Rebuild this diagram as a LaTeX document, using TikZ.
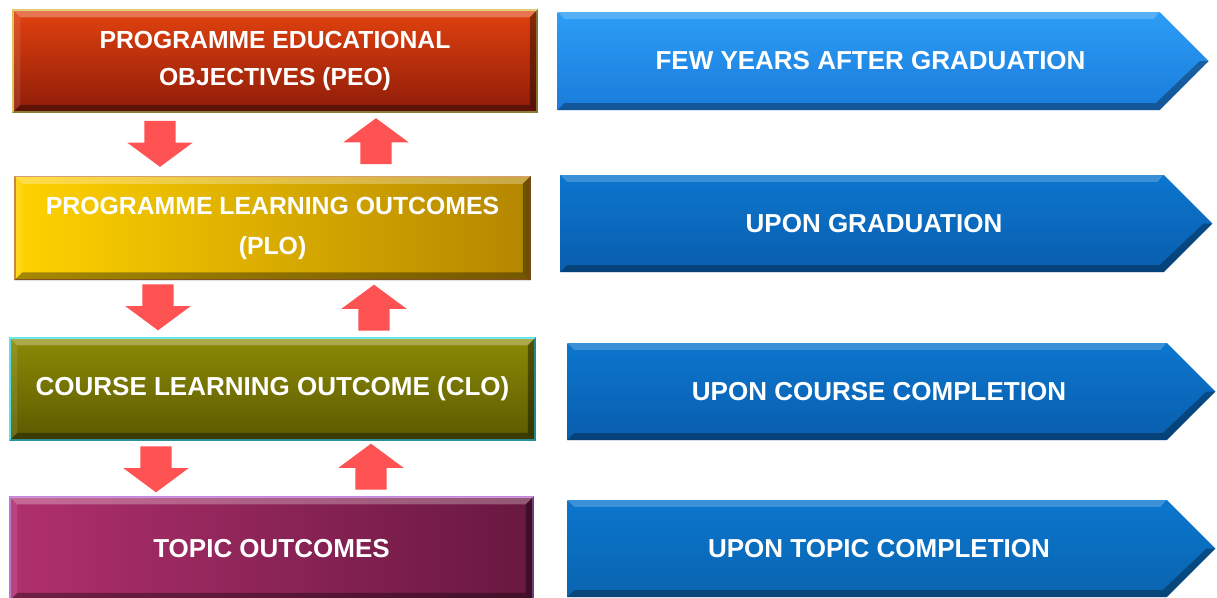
\documentclass[tikz,border=0pt]{standalone}
\usepackage{fontspec}
\setmainfont{Liberation Sans}
\usetikzlibrary{positioning,calc,shapes.arrows,shapes.symbols}

\definecolor{peotop}{HTML}{E2420F}
\definecolor{peobot}{HTML}{8E1C08}
\definecolor{peoline}{HTML}{D8C050}
\definecolor{ploleft}{HTML}{FFD200}
\definecolor{ploright}{HTML}{B48600}
\definecolor{ploline}{HTML}{C87A38}
\definecolor{clotop}{HTML}{8C8A06}
\definecolor{clobot}{HTML}{5C5A00}
\definecolor{cloline}{HTML}{40E0E8}
\definecolor{topleft}{HTML}{B0306E}
\definecolor{topright}{HTML}{681840}
\definecolor{topline}{HTML}{B86CD0}
\definecolor{skytop}{HTML}{2C9DF6}
\definecolor{skybot}{HTML}{1A7CDA}
\definecolor{navytop}{HTML}{0B76CE}
\definecolor{navybot}{HTML}{0A5EAE}
\definecolor{arrowred}{HTML}{FF5252}

\tikzset{
  levelbox/.style={draw, line width=1.5pt, inner sep=0pt, text=white, align=center,
    font=\bfseries\fontsize{26}{38}\selectfont},
  timetag/.style={signal, signal to=east, signal pointer angle=90, inner sep=0pt,
    minimum height=97pt, text=white, font=\bfseries\fontsize{26}{32}\selectfont,
    execute at begin node={\hspace*{24pt}}},
  redarrow/.style={single arrow, fill=arrowred, inner xsep=0pt, inner ysep=15.5pt,
    minimum height=46pt, single arrow head extend=17pt, single arrow tip angle=107}
}

% bevelled edges of a box
\newcommand{\bevelize}[1]{%
  \fill[white, opacity=.28] (#1.north west) -- (#1.north east) -- ([shift={(-8pt,-8pt)}]#1.north east) -- ([shift={(8pt,-8pt)}]#1.north west) -- cycle;
  \fill[black, opacity=.35] (#1.south west) -- (#1.south east) -- ([shift={(-8pt,8pt)}]#1.south east) -- ([shift={(8pt,8pt)}]#1.south west) -- cycle;
  \fill[black, opacity=.4] (#1.north east) -- (#1.south east) -- ([shift={(-8pt,8pt)}]#1.south east) -- ([shift={(-8pt,-8pt)}]#1.north east) -- cycle;
  \fill[white, opacity=.1] (#1.north west) -- (#1.south west) -- ([shift={(8pt,8pt)}]#1.south west) -- ([shift={(8pt,-8pt)}]#1.north west) -- cycle;
}
% bevelled edges of a tag
\newcommand{\tagbevel}[1]{%
  \fill[white, opacity=.2] (#1.west |- #1.north) -- ($(#1.east |- #1.north)+(-49pt,0)$) -- ($(#1.east |- #1.north)+(-55pt,-7pt)$) -- ($(#1.west |- #1.north)+(7pt,-7pt)$) -- cycle;
  \fill[black, opacity=.3] (#1.west |- #1.south) -- ($(#1.east |- #1.south)+(-49pt,0)$) -- (#1.east) -- ($(#1.east)+(-9pt,0)$) -- ($(#1.east |- #1.south)+(-53pt,7pt)$) -- ($(#1.west |- #1.south)+(7pt,7pt)$) -- cycle;
}

\begin{document}
\begin{tikzpicture}[x = 1pt, y = -1pt]
  \useasboundingbox[fill = white] (0,0) rectangle (1217,597);
  % levels
  \node[levelbox, minimum width = 524pt, minimum height = 102pt, top color = peotop, bottom color = peobot, draw = peoline,
    font = \bfseries\fontsize{24.7}{37}\selectfont] (peo) at (275,61) {PROGRAMME EDUCATIONAL\\OBJECTIVES (PEO)};
  \node[levelbox, minimum width = 515pt, minimum height = 103pt, left color = ploleft, right color = ploright, draw = ploline,
    font = \bfseries\fontsize{24.8}{40}\selectfont] (plo) at (272.5,228) {PROGRAMME LEARNING OUTCOMES\\(PLO)};
  \node[levelbox, minimum width = 525pt, minimum height = 102pt, top color = clotop, bottom color = clobot, draw = cloline] (clo) at (272.5,389) {COURSE LEARNING OUTCOME (CLO)};
  \node[levelbox, minimum width = 523pt, minimum height = 103pt, left color = topleft, right color = topright, draw = topline] (topic) at (271.5,548.5) {TOPIC OUTCOMES};
  \foreach \b in {peo, plo, clo, topic} {\bevelize{\b}}
  % time tags
  \node[timetag, minimum width = 651pt, minimum height = 98pt, top color = skytop, bottom color = skybot] (when1) at (858.5,61) {FEW YEARS AFTER GRADUATION};
  \node[timetag, minimum width = 652pt, top color = navytop, bottom color = navybot] (when2) at (862,223.5) {UPON GRADUATION};
  \node[timetag, minimum width = 648pt, top color = navytop, bottom color = navybot] (when3) at (867,391.5) {UPON COURSE COMPLETION};
  \node[timetag, minimum width = 648pt, top color = navytop, bottom color = navytop!85!black] (when4) at (867,548.5) {UPON TOPIC COMPLETION};
  \foreach \t in {when1, when2, when3, when4} {\tagbevel{\t}}
  % arrows between levels
  \node[redarrow, rotate = -90] (down1) at (160,138) {};
  \node[redarrow, rotate = 90] (up1) at (376,147) {};
  \node[redarrow, rotate = -90] (down2) at (158,301.5) {};
  \node[redarrow, rotate = 90] (up2) at (374,313.5) {};
  \node[redarrow, rotate = -90] (down3) at (156,463.5) {};
  \node[redarrow, rotate = 90] (up3) at (371,472.5) {};
\end{tikzpicture}
\end{document}
